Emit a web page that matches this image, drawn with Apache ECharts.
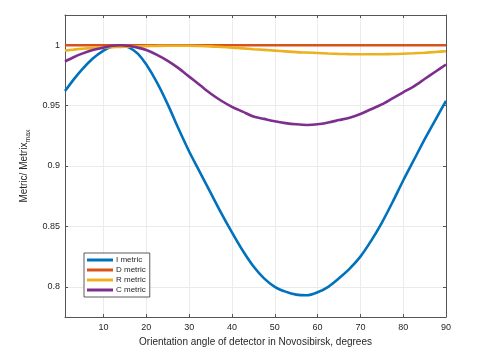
<!DOCTYPE html>
<html>
<head>
<meta charset="utf-8">
<script src="https://cdn.jsdelivr.net/npm/echarts@6/dist/echarts.min.js"></script>
<style>
  html, body { margin: 0; padding: 0; background: #fff; }
  #main { width: 490px; height: 354px; }
</style>
</head>
<body>
<div id="main"></div>
<script>
// angles (degrees)
var angles = [1, 3, 5, 7.5, 10, 12, 14, 16, 18, 20, 22.5, 25, 27.5, 30, 32.5, 35, 37.5, 40, 42.5, 45,
  47.5, 50, 52.5, 55, 57.5, 60, 62.5, 65, 67.5, 70, 72.5, 75, 77.5, 80, 82.5, 85, 87.5, 90];

var iMetric = [0.962, 0.9715, 0.980, 0.989, 0.9955, 0.999, 1.0, 0.998, 0.993, 0.984, 0.969, 0.951, 0.931, 0.912,
  0.895, 0.878, 0.861, 0.845, 0.830, 0.817, 0.807, 0.800, 0.796, 0.7935, 0.793, 0.7955, 0.800, 0.807,
  0.815, 0.825, 0.838, 0.853, 0.870, 0.888, 0.905, 0.922, 0.938, 0.954];
var dMetric = [1, 1, 1, 1, 1, 1, 1, 1, 1, 1, 1, 1, 1, 1, 1, 1, 1, 1, 1, 1,
  1, 1, 1, 1, 1, 1, 1, 1, 1, 1, 1, 1, 1, 1, 1, 1, 1, 1];
var rMetric = [0.9955, 0.9963, 0.997, 0.9976, 0.998, 0.9983, 0.9986, 0.9988, 0.999, 0.9992, 0.9994, 0.9995,
  0.9995, 0.9995, 0.9993, 0.999, 0.9985, 0.998, 0.9974, 0.9967, 0.9961, 0.9955, 0.9949, 0.9943, 0.9939,
  0.9935, 0.9931, 0.9928, 0.9926, 0.9925, 0.9925, 0.9925, 0.9927, 0.9929, 0.9933, 0.9938, 0.9944, 0.995];
var cMetric = [0.9865, 0.990, 0.993, 0.996, 0.998, 0.9995, 1.0, 0.9993, 0.998, 0.996, 0.992, 0.987, 0.981,
  0.974, 0.967, 0.960, 0.954, 0.949, 0.945, 0.941, 0.939, 0.937, 0.9355, 0.9345, 0.934, 0.9345, 0.936,
  0.938, 0.940, 0.943, 0.947, 0.951, 0.956, 0.961, 0.966, 0.972, 0.978, 0.984];

var xTicks = [10, 20, 30, 40, 50, 60, 70, 80, 90];
var yTicks = [0.8, 0.85, 0.9, 0.95, 1];

var seriesNames = ['I metric', 'D metric', 'R metric', 'C metric'];
var seriesColors = ['#0072BD', '#D95319', '#EDB120', '#7E2F8E'];
var seriesValues = [iMetric, dMetric, rMetric, cMetric];

function pairs(vals) {
  return angles.map(function (a, i) { return [a, vals[i]]; });
}

var chart = echarts.init(document.getElementById('main'));

var axisColor = '#555';
var textColor = '#262626';
var font = 'Liberation Sans, Arial, sans-serif';

var option = {
  animation: false,
  textStyle: { fontFamily: font },
  grid: { left: 65, right: 44, top: 15, bottom: 37, containLabel: false },
  legend: {
    orient: 'vertical',
    left: 84,
    top: 253,
    icon: 'rect',
    itemWidth: 26,
    itemHeight: 3,
    itemGap: 2,
    padding: [3, 4, 3, 3],
    borderColor: '#333',
    borderWidth: 0.8,
    backgroundColor: '#fff',
    textStyle: { fontSize: 8, color: textColor, padding: [0, 0, 0, -2] },
    data: seriesNames
  },
  xAxis: [{
    type: 'value',
    min: 1,
    max: 90,
    name: 'Orientation angle of detector in Novosibirsk, degrees',
    nameLocation: 'middle',
    nameGap: 19,
    nameTextStyle: { fontSize: 10, color: textColor },
    axisLine: { show: true, lineStyle: { color: axisColor, width: 1 } },
    axisTick: { show: true, inside: true, length: 3, customValues: xTicks, lineStyle: { color: axisColor } },
    axisLabel: { customValues: xTicks, fontSize: 9, color: textColor, margin: 6 },
    splitLine: { show: true, lineStyle: { color: '#ebebeb', width: 1 } }
  }, {
    type: 'value',
    position: 'top',
    min: 1,
    max: 90,
    axisLine: { show: true, onZero: false, lineStyle: { color: axisColor, width: 1 } },
    axisTick: { show: true, inside: true, length: 3, customValues: xTicks, lineStyle: { color: axisColor } },
    axisLabel: { show: false },
    splitLine: { show: false }
  }],
  yAxis: [{
    type: 'value',
    min: 0.775,
    max: 1.025,
    name: 'Metric/ Metrix{sub|max}',
    nameLocation: 'middle',
    nameGap: 25,
    nameTextStyle: {
      fontSize: 10,
      color: textColor,
      rich: { sub: { fontSize: 7, color: textColor, padding: [8, 0, 0, 0] } }
    },
    axisLine: { show: true, onZero: false, lineStyle: { color: axisColor, width: 1 } },
    axisTick: { show: true, inside: true, length: 3, customValues: yTicks, lineStyle: { color: axisColor } },
    axisLabel: {
      customValues: yTicks,
      fontSize: 9,
      color: textColor,
      margin: 5,
      formatter: function (v) { return String(+v.toFixed(2)); }
    },
    splitLine: { show: true, lineStyle: { color: '#ebebeb', width: 1 } }
  }, {
    type: 'value',
    position: 'right',
    min: 0.775,
    max: 1.025,
    axisLine: { show: true, onZero: false, lineStyle: { color: axisColor, width: 1 } },
    axisTick: { show: true, inside: true, length: 3, customValues: yTicks, lineStyle: { color: axisColor } },
    axisLabel: { show: false },
    splitLine: { show: false }
  }],
  series: seriesNames.map(function (name, i) {
    return {
      name: name,
      type: 'line',
      xAxisIndex: 0,
      yAxisIndex: 0,
      smooth: 0.3,
      showSymbol: false,
      symbol: 'none',
      color: seriesColors[i],
      lineStyle: { width: 2.6, color: seriesColors[i] },
      data: pairs(seriesValues[i])
    };
  })
};

chart.setOption(option);
</script>
</body>
</html>
